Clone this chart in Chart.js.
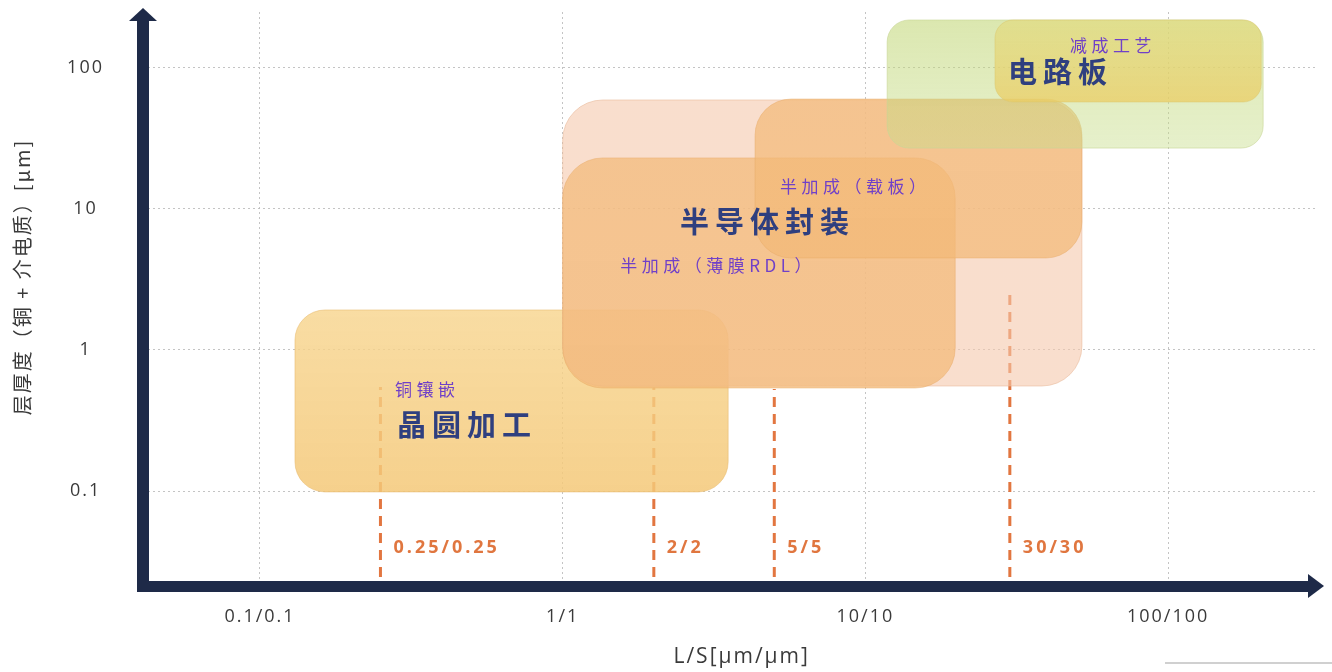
<!DOCTYPE html>
<html>
<head>
<meta charset="utf-8">
<script src="https://cdn.jsdelivr.net/npm/chart.js@4.4.1/dist/chart.umd.min.js"></script>
<style>
  html, body { margin: 0; padding: 0; background: #ffffff; }
  #wrap { width: 1332px; height: 672px; position: relative; }
</style>
</head>
<body>
<div id="wrap"><canvas id="chart" width="1332" height="672"></canvas></div>
<script>
// Process windows: line/space range (µm) and layer thickness range (µm)
const regionNames = ['晶圆加工', '半导体封装', '半加成（薄膜RDL）', '半加成（载板）', '电路板', '减成工艺'];
const regionLSMin = [0.1305, 1.0, 1.0, 4.32, 11.8, 26.8];
const regionLSMax = [3.52, 51.9, 19.8, 51.9, 206, 203];
const regionThickMin = [0.0989, 0.556, 0.538, 4.48, 26.9, 57.0];
const regionThickMax = [1.92, 58.9, 22.9, 59.8, 217, 217];

// Typical line/space nodes (marked with dashed guides)
const nodeLS = [0.25, 2, 5, 30];
const nodeThickTop = [0.547, 0.54, 0.53, 2.66];
const nodeLabels = ['0.25/0.25', '2/2', '5/5', '30/30'];

// Axis ticks
const xTickValues = [0.1, 1, 10, 100];
const xTickLabels = ['0.1/0.1', '1/1', '10/10', '100/100'];
const yTickValues = [0.1, 1, 10, 100];
const yTickLabels = ['0.1', '1', '10', '100'];

// Axis extents
const X_MIN = 0.04107, X_MAX = 312.7;
const Y_MIN = 0.02133, Y_MAX = 247.2;
const NODE_BASE = 0.0247;      // dashed guides start just above the axis
const NODE_LABEL_LEVEL = 0.0395;

// Box appearance (fill gradient top -> bottom, border, corner radius), same order as regionNames
const regionStyles = [
  { top: 'rgba(247,212,140,0.80)', bottom: 'rgba(244,200,120,0.85)', border: 'rgba(232,186,110,0.55)', r: 30 },
  { top: 'rgba(245,200,172,0.60)', bottom: 'rgba(245,200,172,0.60)', border: 'rgba(232,182,150,0.55)', r: 40 },
  { top: 'rgba(243,185,119,0.70)', bottom: 'rgba(243,185,119,0.72)', border: 'rgba(230,168,100,0.45)', r: 40 },
  { top: 'rgba(243,185,119,0.70)', bottom: 'rgba(243,185,119,0.72)', border: 'rgba(230,168,100,0.45)', r: 36 },
  { top: 'rgba(190,212,110,0.55)', bottom: 'rgba(200,222,140,0.45)', border: 'rgba(200,214,150,0.60)', r: 22 },
  { top: 'rgba(226,218,125,0.65)', bottom: 'rgba(235,205,100,0.75)', border: 'rgba(220,200,110,0.50)', r: 18 }
];

// Text inside the boxes, anchored at (L/S, thickness) of the text's left/middle
const boxTexts = [
  { text: '铜镶嵌', x: 0.279, y: 0.521, big: false },
  { text: '晶圆加工', x: 0.2836, y: 0.294, big: true },
  { text: '半导体封装', x: 2.44, y: 8.06, big: true },
  { text: '半加成（载板）', x: 5.22, y: 14.3, big: false },
  { text: '半加成（薄膜RDL）', x: 1.55, y: 3.93, big: false },
  { text: '电路板', x: 29.6, y: 92.9, big: true },
  { text: '减成工艺', x: 47.4, y: 144, big: false }
];

const AXIS_COLOR = '#1e2a48';
const CJK = '"Noto Sans CJK SC", "Noto Sans", sans-serif';
const LATIN = '"Open Sans", "Noto Sans", sans-serif';

function roundRectPath(ctx, x0, y0, x1, y1, r) {
  const w = x1 - x0, h = y1 - y0;
  r = Math.min(r, w / 2, h / 2);
  ctx.beginPath();
  ctx.moveTo(x0 + r, y0);
  ctx.lineTo(x1 - r, y0);
  ctx.arcTo(x1, y0, x1, y0 + r, r);
  ctx.lineTo(x1, y1 - r);
  ctx.arcTo(x1, y1, x1 - r, y1, r);
  ctx.lineTo(x0 + r, y1);
  ctx.arcTo(x0, y1, x0, y1 - r, r);
  ctx.lineTo(x0, y0 + r);
  ctx.arcTo(x0, y0, x0 + r, y0, r);
  ctx.closePath();
}

const regionPlugin = {
  id: 'processRegions',
  beforeDraw(chart) {
    // wide tracking for the axis texts
    chart.ctx.letterSpacing = '2px';
  },
  afterDatasetsDraw(chart) {
    const { ctx, scales: { x, y } } = chart;
    ctx.save();
    regionNames.forEach((name, i) => {
      const st = regionStyles[i];
      const x0 = x.getPixelForValue(regionLSMin[i]);
      const x1 = x.getPixelForValue(regionLSMax[i]);
      const y0 = y.getPixelForValue(regionThickMax[i]);
      const y1 = y.getPixelForValue(regionThickMin[i]);
      const g = ctx.createLinearGradient(0, y0, 0, y1);
      g.addColorStop(0, st.top);
      g.addColorStop(1, st.bottom);
      roundRectPath(ctx, x0, y0, x1, y1, st.r);
      ctx.fillStyle = g;
      ctx.fill();
      ctx.lineWidth = 1;
      ctx.strokeStyle = st.border;
      ctx.stroke();
    });

    // box captions
    ctx.textBaseline = 'middle';
    ctx.textAlign = 'left';
    boxTexts.forEach(t => {
      if (t.big) {
        ctx.font = 'bold 29px ' + CJK;
        ctx.fillStyle = '#2f3f7f';
        ctx.letterSpacing = '6px';
      } else {
        ctx.font = '17px ' + CJK;
        ctx.fillStyle = '#7040c8';
        ctx.letterSpacing = '4.5px';
      }
      ctx.fillText(t.text, x.getPixelForValue(t.x), y.getPixelForValue(t.y));
    });

    // node labels next to the dashed guides
    ctx.font = 'bold 18px ' + LATIN;
    ctx.fillStyle = '#e0763f';
    ctx.letterSpacing = '3px';
    nodeLS.forEach((v, i) => {
      ctx.fillText(nodeLabels[i], x.getPixelForValue(v) + 13, y.getPixelForValue(NODE_LABEL_LEVEL));
    });
    ctx.restore();
  },
  afterDraw(chart) {
    const { ctx, chartArea: { left, right, bottom } } = chart;
    ctx.save();
    ctx.fillStyle = AXIS_COLOR;
    // vertical axis with arrow
    ctx.fillRect(left - 6, 20, 12, bottom + 6 - 20);
    ctx.beginPath();
    ctx.moveTo(left, 8);
    ctx.lineTo(left + 14, 21);
    ctx.lineTo(left - 14, 21);
    ctx.closePath();
    ctx.fill();
    // horizontal axis with arrow
    ctx.fillRect(left - 6, bottom - 5, right - 9 - (left - 6), 11);
    ctx.beginPath();
    ctx.moveTo(right + 6, bottom);
    ctx.lineTo(right - 10, bottom - 12);
    ctx.lineTo(right - 10, bottom + 12);
    ctx.closePath();
    ctx.fill();
    // thin rule at the lower right
    ctx.fillStyle = '#d0d0d0';
    ctx.fillRect(1165, 662, 167, 2);
    ctx.restore();
    ctx.letterSpacing = '0px';
  }
};

const nodeDatasets = nodeLS.map((v, i) => ({
  label: nodeLabels[i],
  data: [{ x: v, y: NODE_BASE }, { x: v, y: nodeThickTop[i] }],
  showLine: true,
  borderColor: 'rgb(226,118,64)',
  borderWidth: 3,
  borderDash: [10, 7],
  pointRadius: 0,
  fill: false
}));

const gridCommon = { color: 'rgba(190,190,190,0.9)', lineWidth: 1, drawTicks: false, borderDash: [2, 3] };

new Chart(document.getElementById('chart'), {
  type: 'scatter',
  data: { datasets: nodeDatasets },
  options: {
    responsive: false,
    animation: false,
    layout: { padding: { top: 12, right: 14, left: 0, bottom: 0 } },
    plugins: { legend: { display: false }, tooltip: { enabled: false } },
    scales: {
      x: {
        type: 'logarithmic',
        position: 'bottom',
        min: X_MIN,
        max: X_MAX,
        afterBuildTicks: s => { s.ticks = xTickValues.map(v => ({ value: v, major: true })); },
        afterFit: s => { s.height = 86; s.paddingLeft = 0; s.paddingRight = 0; },
        border: { display: false, dash: [2, 3] },
        grid: gridCommon,
        ticks: {
          autoSkip: false,
          maxRotation: 0,
          padding: 20,
          color: '#3a3a3a',
          font: { family: LATIN, size: 18 },
          callback: v => xTickLabels[xTickValues.indexOf(v)]
        },
        title: {
          display: true,
          text: '   L/S[µm/µm]',
          color: '#3a3a3a',
          font: { family: LATIN, size: 21 },
          padding: { top: 0, bottom: 2 }
        }
      },
      y: {
        type: 'logarithmic',
        position: 'left',
        min: Y_MIN,
        max: Y_MAX,
        afterBuildTicks: s => { s.ticks = yTickValues.map(v => ({ value: v, major: true })); },
        afterFit: s => { s.width = 143; s.paddingTop = 0; s.paddingBottom = 0; },
        border: { display: false, dash: [2, 3] },
        grid: gridCommon,
        ticks: {
          autoSkip: false,
          crossAlign: 'center',
          padding: 42,
          color: '#3a3a3a',
          font: { family: LATIN, size: 18 },
          callback: v => yTickLabels[yTickValues.indexOf(v)]
        },
        title: {
          display: true,
          text: '\u3000\u3000层厚度（铜 + 介电质）[µm]',
          color: '#3a3a3a',
          font: { family: CJK, size: 20 },
          padding: { top: 10, bottom: 0 }
        }
      }
    }
  },
  plugins: [regionPlugin]
});
</script>
</body>
</html>
